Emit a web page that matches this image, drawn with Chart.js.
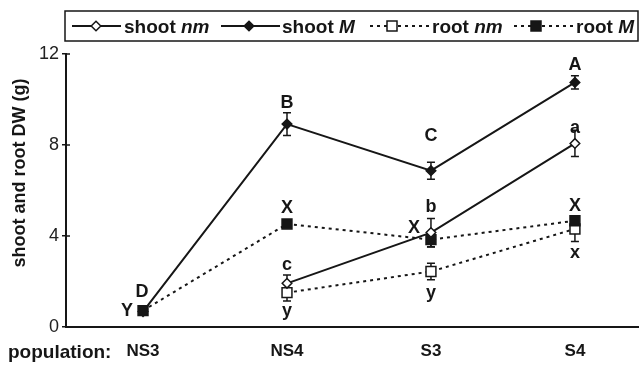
<!DOCTYPE html>
<html><head><meta charset="utf-8">
<script src="https://cdn.jsdelivr.net/npm/chart.js@4/dist/chart.umd.min.js"></script>
<style>html,body{margin:0;padding:0;background:#fff;overflow:hidden}#wrap{width:639px;height:366px;position:relative}</style>
</head><body><div id="wrap"><canvas id="c" width="639" height="366"></canvas></div>
<script>
// ---- data ----
const categories = ['NS3', 'NS4', 'S3', 'S4'];
const shootNm    = [null, 1.92, 4.15, 8.07];
const shootNmErr = [null, 0.37, 0.62, 0.58];
const shootM     = [0.68, 8.92, 6.87, 10.75];
const shootMErr  = [0.1, 0.5, 0.37, 0.29];
const rootNm     = [null, 1.51, 2.44, 4.31];
const rootNmErr  = [null, 0.37, 0.36, 0.55];
const rootM      = [0.72, 4.53, 3.84, 4.67];
const rootMErr   = [0.1, 0.15, 0.32, 0.2];
const shootNmLetters = ['', 'c', 'b', 'a'];
const shootMLetters  = ['D', 'B', 'C', 'A'];
const rootNmLetters  = ['', 'y', 'y', 'x'];
const rootMLetters   = ['Y', 'X', 'X', 'X'];
const yTicks = [0, 4, 8, 12];

// ---- layout / style (not data) ----
const FONT = "'Liberation Sans', Arial, Helvetica, sans-serif";
const INK = '#161616';
const letterOffsets = {
  shootNm: [null, [0, -13], [0, -21], [0, -10]],
  shootM:  [[-1, -15], [0, -16], [0, -30], [0, -12]],
  rootNm:  [null, [0, 23], [0, 27], [0, 29]],
  rootM:   [[-16, 5], [0, -11], [-17, -7], [0, -10]]
};

function pts(arr) { return categories.map((c, i) => ({ x: i, y: arr[i] })); }

function makeDs(key, label, arr, errs, letters, dashed, shape, filled, radius) {
  return {
    key, label, data: pts(arr), errs, letters,
    borderColor: INK, borderWidth: 2, borderDash: dashed ? [3, 4] : [],
    pointStyle: shape, pointRadius: radius, pointHoverRadius: radius,
    pointBackgroundColor: filled ? INK : '#ffffff',
    pointBorderColor: INK, pointBorderWidth: 1.5,
    fill: false, tension: 0, spanGaps: false
  };
}

const datasets = [
  makeDs('shootNm', 'shoot nm', shootNm, shootNmErr, shootNmLetters, false, 'rectRot', false, 4.8),
  makeDs('rootM', 'root M', rootM, rootMErr, rootMLetters, true, 'rect', true, 7),
  makeDs('shootM', 'shoot M', shootM, shootMErr, shootMLetters, false, 'rectRot', true, 4.8),
  makeDs('rootNm', 'root nm', rootNm, rootNmErr, rootNmLetters, true, 'rect', false, 7)
];

const errorBars = {
  id: 'errorBars',
  beforeDatasetsDraw(chart) {
    const ctx = chart.ctx, ys = chart.scales.y;
    ctx.save();
    ctx.strokeStyle = INK; ctx.lineWidth = 1.5; ctx.setLineDash([]);
    chart.data.datasets.forEach((ds, di) => {
      const meta = chart.getDatasetMeta(di);
      meta.data.forEach((p, i) => {
        const v = ds.data[i].y, e = ds.errs[i];
        if (v == null || e == null) return;
        const x = p.x, y1 = ys.getPixelForValue(v + e), y2 = ys.getPixelForValue(v - e);
        ctx.beginPath();
        ctx.moveTo(x, y1); ctx.lineTo(x, y2);
        ctx.moveTo(x - 4, y1); ctx.lineTo(x + 4, y1);
        ctx.moveTo(x - 4, y2); ctx.lineTo(x + 4, y2);
        ctx.stroke();
      });
    });
    ctx.restore();
  }
};

const letterPlugin = {
  id: 'letters',
  afterDatasetsDraw(chart) {
    const ctx = chart.ctx;
    ctx.save();
    ctx.fillStyle = INK; ctx.font = 'bold 18px ' + FONT;
    ctx.textAlign = 'center'; ctx.textBaseline = 'alphabetic';
    chart.data.datasets.forEach((ds, di) => {
      const meta = chart.getDatasetMeta(di);
      meta.data.forEach((p, i) => {
        const t = ds.letters[i]; const off = letterOffsets[ds.key][i];
        if (!t || !off) return;
        ctx.fillText(t, p.x + off[0], p.y + off[1]);
      });
    });
    ctx.restore();
  }
};

const decor = {
  id: 'decor',
  afterDraw(chart) {
    const ctx = chart.ctx, ys = chart.scales.y, ca = chart.chartArea;
    ctx.save();
    ctx.strokeStyle = INK; ctx.lineWidth = 1.5;
    yTicks.forEach(v => {
      const y = ys.getPixelForValue(v);
      ctx.beginPath(); ctx.moveTo(ca.left, y); ctx.lineTo(ca.left + 4, y); ctx.stroke();
    });
    ctx.fillStyle = INK;
    ctx.font = 'bold 18px ' + FONT;
    ctx.save();
    ctx.translate(25, 173); ctx.rotate(-Math.PI / 2);
    ctx.textAlign = 'center'; ctx.textBaseline = 'alphabetic';
    ctx.fillText('shoot and root DW (g)', 0, 0);
    ctx.restore();
    ctx.font = 'bold 19px ' + FONT;
    ctx.textAlign = 'left'; ctx.textBaseline = 'alphabetic';
    ctx.fillText('population:', 8, 358);
    ctx.lineWidth = 1.5; ctx.strokeStyle = INK;
    ctx.strokeRect(65, 11, 573, 30);
    const ly = 26;
    const items = [
      { a: 'shoot ', b: 'nm', dash: [], shape: 'd', fill: false, x0: 72, x1: 121, mx: 96, tx: 124 },
      { a: 'shoot ', b: 'M', dash: [], shape: 'd', fill: true, x0: 221, x1: 280, mx: 249, tx: 282 },
      { a: 'root ', b: 'nm', dash: [3, 4], shape: 's', fill: false, x0: 370, x1: 430, mx: 392, tx: 432 },
      { a: 'root ', b: 'M', dash: [3, 4], shape: 's', fill: true, x0: 514, x1: 574, mx: 536, tx: 576 }
    ];
    items.forEach(it => {
      ctx.lineWidth = 2; ctx.setLineDash(it.dash);
      ctx.beginPath(); ctx.moveTo(it.x0, ly); ctx.lineTo(it.x1, ly); ctx.stroke();
      ctx.setLineDash([]); ctx.lineWidth = 1.5;
      ctx.fillStyle = it.fill ? INK : '#fff';
      ctx.beginPath();
      if (it.shape === 'd') {
        const r = 4.8;
        ctx.moveTo(it.mx - r, ly); ctx.lineTo(it.mx, ly - r); ctx.lineTo(it.mx + r, ly); ctx.lineTo(it.mx, ly + r); ctx.closePath();
      } else {
        ctx.rect(it.mx - 5, ly - 5, 10, 10);
      }
      ctx.fill(); ctx.stroke();
      ctx.fillStyle = INK;
      ctx.font = 'bold 19px ' + FONT;
      ctx.fillText(it.a, it.tx, ly + 7);
      const w = ctx.measureText(it.a).width;
      ctx.font = 'italic bold 19px ' + FONT;
      ctx.fillText(it.b, it.tx + w, ly + 7);
    });
    ctx.restore();
  }
};

new Chart(document.getElementById('c'), {
  type: 'line',
  data: { datasets },
  plugins: [errorBars, letterPlugin, decor],
  options: {
    responsive: false, animation: false, devicePixelRatio: 1,
    layout: { autoPadding: false, padding: { top: 54, left: 0, right: 0, bottom: 0 } },
    plugins: { legend: { display: false }, tooltip: { enabled: false } },
    scales: {
      x: {
        type: 'linear', min: -0.535, max: 3.445,
        afterBuildTicks(s) { s.ticks = categories.map((c, i) => ({ value: i })); },
        afterFit(s) { s.height = 39; s.paddingLeft = 0; s.paddingRight = 0; },
        grid: { display: false, drawTicks: false },
        border: { display: true, color: INK, width: 2 },
        ticks: { callback: (v) => categories[v] ?? '', font: { family: FONT, size: 17, weight: 'bold' }, color: INK, padding: 14, maxRotation: 0, autoSkip: false }
      },
      y: {
        min: 0, max: 12,
        afterBuildTicks(s) { s.ticks = yTicks.map(v => ({ value: v })); },
        afterFit(s) { s.width = 66; s.paddingTop = 0; s.paddingBottom = 0; },
        grid: { display: true, drawOnChartArea: false, drawTicks: true, tickLength: 4, color: INK, lineWidth: 1.5 },
        border: { display: true, color: INK, width: 2 },
        ticks: { font: { family: FONT, size: 18 }, color: '#222', padding: 3 }
      }
    }
  }
});
</script>
</body></html>
